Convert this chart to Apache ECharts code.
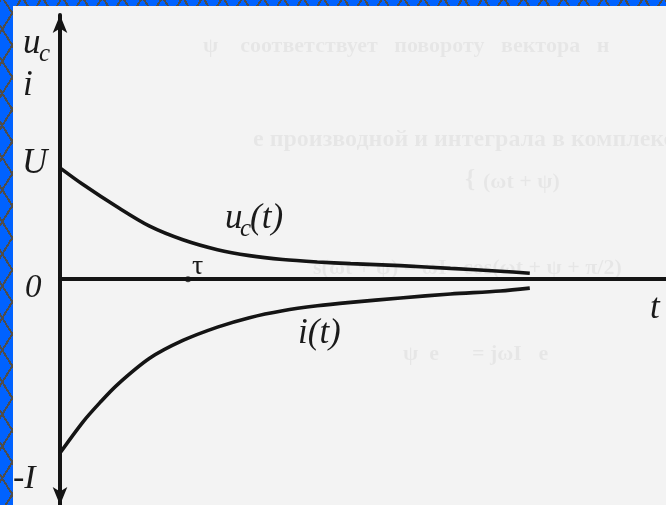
<!DOCTYPE html>
<html>
<head>
<meta charset="utf-8">
<script src="https://cdn.jsdelivr.net/npm/echarts@6/dist/echarts.min.js"></script>
<style>
  html, body { margin: 0; padding: 0; }
  body {
    width: 666px; height: 505px; overflow: hidden; position: relative;
    background-color: #0062ff;
    background-image:
      repeating-linear-gradient(58deg, transparent 0 15px, #4d4d4d 15px 17px),
      repeating-linear-gradient(-58deg, transparent 0 15px, #4d4d4d 15px 17px);
  }
  #chart {
    position: absolute; left: 13px; top: 6px; width: 653px; height: 499px;
    background: #f3f3f3;
  }
</style>
</head>
<body>
<div id="chart"></div>
<script>
// Capacitor discharge: time in units of tau, voltage in units of U, current scaled to the same unit
const tU = [0, 0.18, 0.445, 0.70, 0.96, 1.23, 1.48, 1.74, 2.01, 2.27, 2.66, 3.05, 3.44, 3.67];
const uC = [1.0, 0.85, 0.650, 0.476, 0.354, 0.265, 0.212, 0.177, 0.155, 0.140, 0.122, 0.097, 0.072, 0.053];

const tI = [0, 0.18, 0.31, 0.445, 0.70, 0.96, 1.23, 1.48, 1.74, 2.01, 2.27, 2.66, 3.05, 3.44, 3.67];
const iT = [-1.56, -1.28, -1.11, -0.95, -0.71, -0.55, -0.43, -0.345, -0.283, -0.239, -0.208, -0.168, -0.133, -0.106, -0.080];

const tauMark = [1, 0];

const zip = (xs, ys) => xs.map((x, k) => [x, ys[k]]);

const serif = "'Liberation Serif', 'DejaVu Serif', serif";
const ink = '#141414';

function label(text, x, y, size, italic) {
  return {
    type: 'text', x: x, y: y, z: 10,
    style: {
      text: text, fill: '#1a1a1a',
      font: (italic === false ? '' : 'italic ') + size + 'px ' + serif,
      align: 'left', verticalAlign: 'middle'
    }
  };
}

function ghost(text, x, y, size) {
  return {
    type: 'text', x: x, y: y, z: 0,
    style: {
      text: text, fill: 'rgba(0,0,0,0.05)',
      font: 'bold ' + size + 'px ' + serif,
      align: 'left', verticalAlign: 'middle'
    }
  };
}

const chart = echarts.init(document.getElementById('chart'), null, { renderer: 'canvas' });

chart.setOption({
  animation: false,
  backgroundColor: 'transparent',
  grid: { left: 47, top: 9, right: 0, height: 497, containLabel: false },
  xAxis: {
    type: 'value', min: 0, max: 4.734,
    axisLine: { show: true, onZero: true, lineStyle: { color: ink, width: 4 } },
    axisTick: { show: false }, axisLabel: { show: false }, splitLine: { show: false }
  },
  yAxis: {
    type: 'value', min: -2.027, max: 2.372,
    axisLine: {
      show: true, onZero: true,
      symbol: ['arrow', 'arrow'], symbolSize: [11, 18],
      lineStyle: { color: ink, width: 4 }
    },
    axisTick: { show: false }, axisLabel: { show: false }, splitLine: { show: false }
  },
  series: [
    {
      name: 'uc', type: 'line', data: zip(tU, uC),
      symbol: 'none', smooth: 0.3,
      lineStyle: { color: ink, width: 3.6 }, z: 5
    },
    {
      name: 'i', type: 'line', data: zip(tI, iT),
      symbol: 'none', smooth: 0.3,
      lineStyle: { color: ink, width: 3.6 }, z: 5
    },
    {
      name: 'tau', type: 'scatter', data: [tauMark],
      symbol: 'circle', symbolSize: 6,
      itemStyle: { color: ink }, z: 6
    }
  ],
  graphic: [
    // faint show-through of the facing page
    ghost('ψ    соответствует   повороту   вектора   н', 190, 40, 22),
    ghost('е производной и интеграла в комплексн', 240, 134, 24),
    ghost('{', 452, 174, 26),
    ghost('(ωt + ψ)', 470, 176, 22),
    ghost('s(ωt + ψ) = ωI   cos(ωt + ψ + π/2)', 300, 262, 22),
    ghost('ψ  e      = jωI   e', 390, 348, 22),

    // axis captions
    label('u', 10, 38, 35),
    label('c', 26, 48, 25),
    label('i', 10, 80, 35),
    label('U', 9, 158, 35),
    label('0', 12, 282, 33),
    label('-I', 0, 473, 34),
    label('t', 637, 303, 35),
    label('τ', 179, 261, 28, false),

    // curve captions
    label('u', 212, 213, 35),
    label('c', 227, 223, 25),
    label('(t)', 237, 213, 35),
    label('i(t)', 285, 328, 35)
  ]
});
</script>
</body>
</html>
